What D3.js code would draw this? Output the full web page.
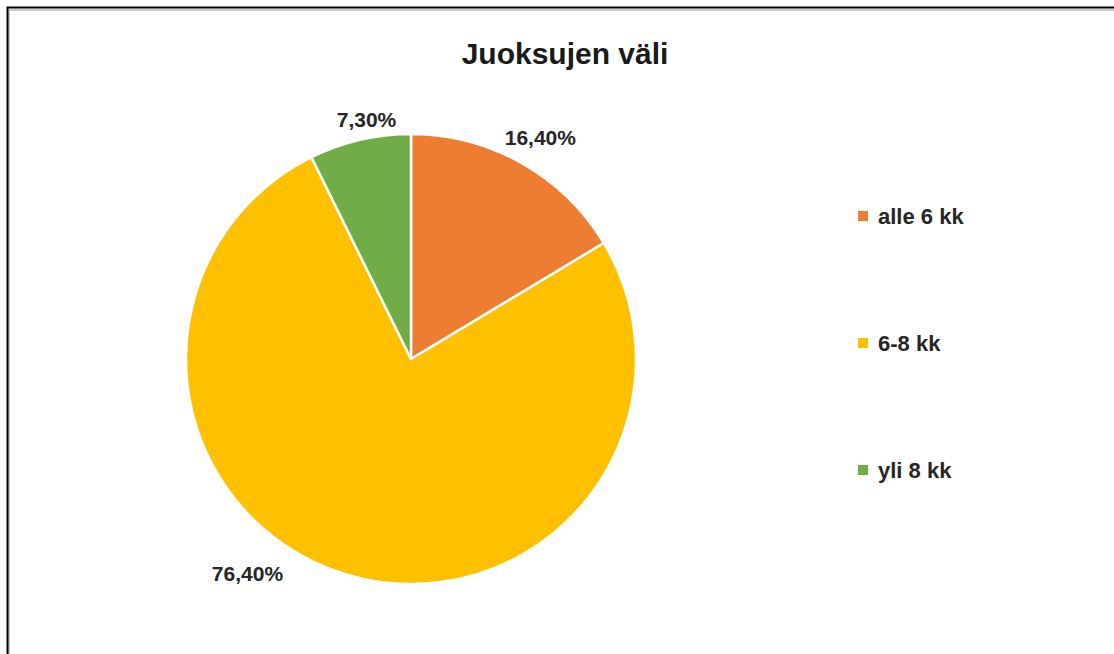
<!DOCTYPE html>
<html>
<head>
<meta charset="utf-8">
<script src="https://cdn.jsdelivr.net/npm/d3@7"></script>
<style>
  body { margin: 0; background: #fff; }
  svg text { font-family: "Liberation Sans", Arial, sans-serif; font-weight: bold; }
</style>
</head>
<body>
<div id="chart"></div>
<script>
const categories = ["alle 6 kk", "6-8 kk", "yli 8 kk"];
const values = [16.4, 76.4, 7.3];
const valueLabels = ["16,40%", "76,40%", "7,30%"];
const colors = ["#ED7D31", "#FFC000", "#70AD47"];
const title = "Juoksujen väli";

const width = 1114, height = 654;
const cx = 411, cy = 359, radius = 225;

const svg = d3.select("#chart").append("svg")
    .attr("width", width)
    .attr("height", height);

// chart frame with a soft shadow (runs past the right and bottom edge)
svg.append("rect")
    .attr("x", 9).attr("y", 10)
    .attr("width", 1120).attr("height", 660)
    .attr("fill", "none")
    .attr("stroke", "#c8c8c8")
    .attr("stroke-width", 2);
svg.append("rect")
    .attr("x", 7.5).attr("y", 7.5)
    .attr("width", 1120).attr("height", 660)
    .attr("fill", "none")
    .attr("stroke", "#000")
    .attr("stroke-width", 2);

svg.append("text")
    .attr("x", 565)
    .attr("y", 64)
    .attr("text-anchor", "middle")
    .attr("fill", "#1a1a1a")
    .style("font-size", "30px")
    .text(title);

const data = categories.map((c, i) => ({ category: c, value: values[i], label: valueLabels[i], color: colors[i] }));

const pie = d3.pie()
    .sort(null)
    .value(d => d.value);

const arc = d3.arc()
    .innerRadius(0)
    .outerRadius(radius);

const arcs = pie(data);

const g = svg.append("g")
    .attr("transform", `translate(${cx}, ${cy})`);

g.selectAll("path.slice")
    .data(arcs)
    .enter()
    .append("path")
    .attr("class", "slice")
    .attr("d", arc)
    .attr("fill", d => d.data.color)
    .attr("stroke", "#fff")
    .attr("stroke-width", 2.5);

// outside-end labels; Excel nudges them a bit, so allow per-slice angle shifts
const labelShift = [0.015, 0.365, 0.045];   // radians
const labelRadius = [256, 270, 243];
g.selectAll("text.value")
    .data(arcs)
    .enter()
    .append("text")
    .attr("class", "value")
    .attr("x", (d, i) => Math.sin((d.startAngle + d.endAngle) / 2 + labelShift[i]) * labelRadius[i])
    .attr("y", (d, i) => -Math.cos((d.startAngle + d.endAngle) / 2 + labelShift[i]) * labelRadius[i])
    .attr("dy", "0.35em")
    .attr("text-anchor", "middle")
    .attr("fill", "#262626")
    .style("font-size", "21px")
    .text(d => d.data.label);

const legendY = d3.scalePoint()
    .domain(categories)
    .range([216, 470]);

const legend = svg.selectAll("g.legend")
    .data(data)
    .enter()
    .append("g")
    .attr("class", "legend")
    .attr("transform", d => `translate(858, ${legendY(d.category)})`);

legend.append("rect")
    .attr("x", 0)
    .attr("y", -5)
    .attr("width", 10)
    .attr("height", 10)
    .attr("fill", d => d.color);

legend.append("text")
    .attr("x", 20)
    .attr("y", 0)
    .attr("dy", "0.35em")
    .attr("fill", "#262626")
    .style("font-size", "22px")
    .text(d => d.category);
</script>
</body>
</html>
